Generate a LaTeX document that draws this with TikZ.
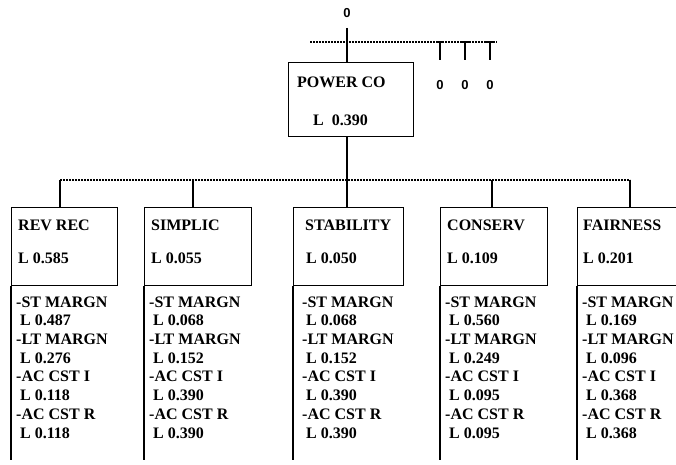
\documentclass[tikz,border=0pt]{standalone}
\usepackage{fontspec}
\setmainfont{Liberation Serif}
\setsansfont{Liberation Sans}
\usetikzlibrary{positioning,calc}

\begin{document}
\begin{tikzpicture}[x=1pt, y=-1pt,
    every node/.style={inner sep=0pt, font=\bfseries\fontsize{16}{18.7}\selectfont},
    line/.style={line width=1.3pt},
    link/.style={line width=1.3pt, dash pattern=on 1.6pt off 1.4pt},
    crit/.style={draw, line width=1.3pt, anchor=north west, minimum width=107pt, minimum height=78pt},
    label/.style={anchor=west},
    list/.style={anchor=north west, align=left},
    zero/.style={font=\sffamily\bfseries\fontsize{13}{14}\selectfont}]
    \clip (0,0) rectangle (676,464);
    \coordinate (bottom) at (0,460);

    % Top level: power company
    \node[zero] (top) at (347,13) {0};
    \node[crit, minimum width=125pt, minimum height=74pt] (power) at (288,62) {};
    \node[label] (powername) at ($(power.north west)+(9,20)$) {POWER CO};
    \node[label] (powerval) at ($(power.north west)+(25,58)$) {L\ \ 0.390};
    \draw[line, shorten <=10pt] (top.south) -- (top.south |- power.north);

    % Dotted line with the three ticks
    \draw[link] (310,42) -- (497,42);
    \foreach \x/\n in {440/a, 465/b, 490/c} {
        \draw[line] (\x-4,42) -- (\x+4,42) (\x,42) -- (\x,60);
        \node[zero] (o\n) at (\x,85) {0};
    }

    % Criteria boxes
    \node[crit, minimum width=106pt] (rev) at (11,207) {};
    \node[crit] (simp) at (144,207) {};
    \node[crit, minimum width=110pt] (stab) at (293,207) {};
    \node[crit] (cons) at (440,207) {};
    \node[crit, minimum width=113pt] (fair) at (577,207) {};

    % Dotted bus and drops
    \coordinate (d1) at (60,180);
    \coordinate (d2) at (193,180);
    \coordinate (d4) at (492,180);
    \coordinate (d5) at (630,180);
    \draw[link] (d1) -- (d5);
    \draw[line] (d1) -- (d1 |- rev.north);
    \draw[line] (d2) -- (d2 |- simp.north);
    \draw[line] (d4) -- (d4 |- cons.north);
    \draw[line] (d5) -- (d5 |- fair.north);
    \draw[line] (top.south |- power.south) -- (top.south |- stab.north);

    % Headings and weights
    \node[label] (revname) at ($(rev.north west)+(7,18)$) {REV REC};
    \node[label] (revval) at ($(rev.north west)+(7,51)$) {L\ 0.585};
    \node[label] (simpname) at ($(simp.north west)+(7,18)$) {SIMPLIC};
    \node[label] (simpval) at ($(simp.north west)+(7,51)$) {L\ 0.055};
    \node[label] (stabname) at ($(stab.north west)+(12,18)$) {STABILITY};
    \node[label] (stabval) at ($(stab.north west)+(13,51)$) {L\ 0.050};
    \node[label] (consname) at ($(cons.north west)+(7,18)$) {CONSERV};
    \node[label] (consval) at ($(cons.north west)+(7,51)$) {L\ 0.109};
    \node[label] (fairname) at ($(fair.north west)+(6,18)$) {FAIRNESS};
    \node[label] (fairval) at ($(fair.north west)+(6,51)$) {L\ 0.201};

    % Column lines
    \foreach \b in {rev, simp, stab, cons, fair}
        \draw[line] (\b.south west) -- (\b.south west |- bottom);

    % Sub-criteria lists
    \node[list] (revlist) at ($(rev.south west)+(5,10)$) {-ST MARGN\\\hspace*{4pt}L 0.487\\-LT MARGN\\\hspace*{4pt}L 0.276\\-AC CST I\\\hspace*{4pt}L 0.118\\-AC CST R\\\hspace*{4pt}L 0.118};
    \node[list] (simplist) at ($(simp.south west)+(5,10)$) {-ST MARGN\\\hspace*{4pt}L 0.068\\-LT MARGN\\\hspace*{4pt}L 0.152\\-AC CST I\\\hspace*{4pt}L 0.390\\-AC CST R\\\hspace*{4pt}L 0.390};
    \node[list] (stablist) at ($(stab.south west)+(9,10)$) {-ST MARGN\\\hspace*{4pt}L 0.068\\-LT MARGN\\\hspace*{4pt}L 0.152\\-AC CST I\\\hspace*{4pt}L 0.390\\-AC CST R\\\hspace*{4pt}L 0.390};
    \node[list] (conslist) at ($(cons.south west)+(5,10)$) {-ST MARGN\\\hspace*{4pt}L 0.560\\-LT MARGN\\\hspace*{4pt}L 0.249\\-AC CST I\\\hspace*{4pt}L 0.095\\-AC CST R\\\hspace*{4pt}L 0.095};
    \node[list] (fairlist) at ($(fair.south west)+(5,10)$) {-ST MARGN\\\hspace*{4pt}L 0.169\\-LT MARGN\\\hspace*{4pt}L 0.096\\-AC CST I\\\hspace*{4pt}L 0.368\\-AC CST R\\\hspace*{4pt}L 0.368};
\end{tikzpicture}
\end{document}
